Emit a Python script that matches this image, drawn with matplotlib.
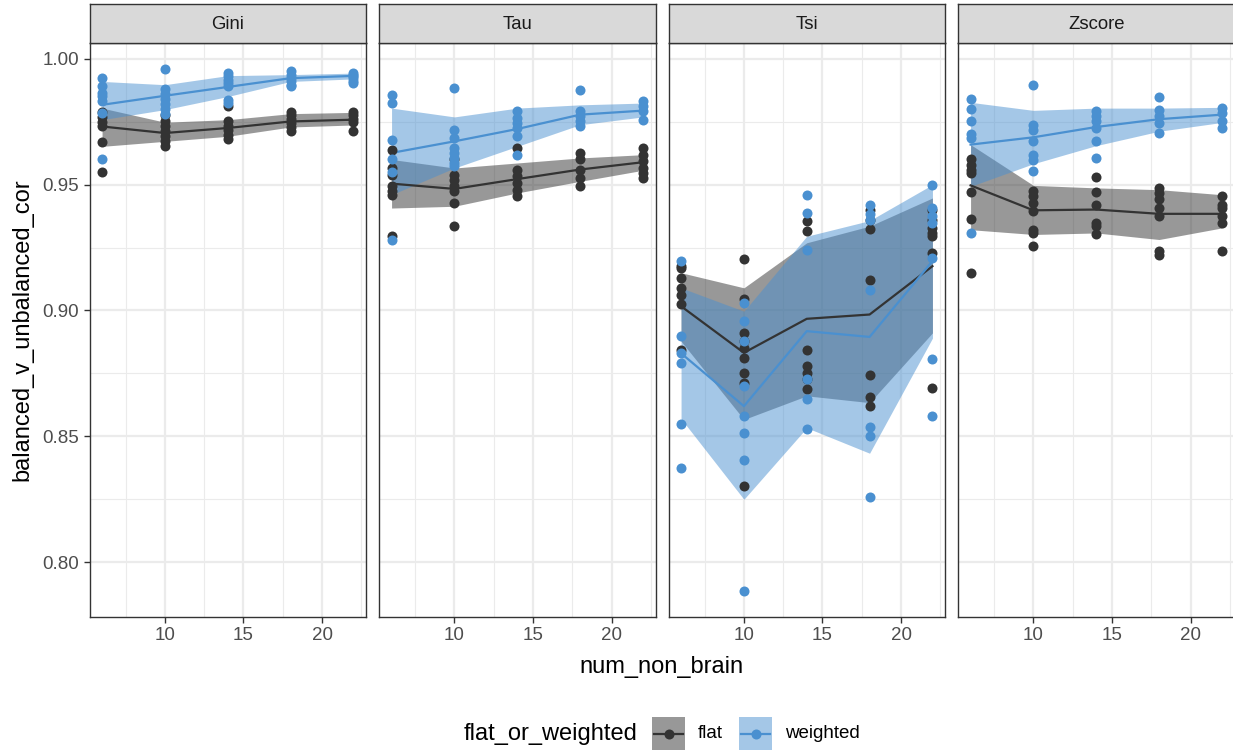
import matplotlib
matplotlib.use("Agg")
import matplotlib.pyplot as plt
from matplotlib.patches import Rectangle
from matplotlib.lines import Line2D
import numpy as np

plt.rcParams['font.family'] = ['Liberation Sans', 'DejaVu Sans']

# ---------------------------------------------------------------- data
num_non_brain = [6, 10, 14, 18, 22]
facets = ["Gini", "Tau", "Tsi", "Zscore"]

# Gini
gini_flat_pts = [[0.979, 0.977, 0.975, 0.9734, 0.9668, 0.9549],
                 [0.9778, 0.9751, 0.9731, 0.9712, 0.9692, 0.9672, 0.9655],
                 [0.9811, 0.9751, 0.9734, 0.9716, 0.9698, 0.9681],
                 [0.979, 0.9776, 0.976, 0.9743, 0.9728, 0.9714],
                 [0.979, 0.9776, 0.976, 0.9747, 0.9714]]
gini_flat_mean = [0.9731, 0.9705, 0.9725, 0.9751, 0.9758]
gini_flat_lo = [0.9652, 0.9672, 0.9692, 0.9729, 0.9737]
gini_flat_hi = [0.9804, 0.9748, 0.9758, 0.9782, 0.9787]
gini_wt_pts = [[0.9923, 0.9893, 0.9866, 0.9851, 0.9831, 0.9784, 0.9602],
               [0.9959, 0.988, 0.986, 0.984, 0.982, 0.980, 0.978],
               [0.9943, 0.993, 0.9917, 0.9903, 0.989, 0.9837, 0.9823],
               [0.995, 0.9937, 0.9923, 0.991, 0.9897, 0.989],
               [0.9943, 0.9935, 0.993, 0.9923, 0.991, 0.9905]]
gini_wt_mean = [0.9817, 0.9853, 0.9888, 0.9923, 0.9932]
gini_wt_lo = [0.9758, 0.9798, 0.985, 0.991, 0.992]
gini_wt_hi = [0.991, 0.9897, 0.9933, 0.9937, 0.9943]

# Tau
tau_flat_pts = [[0.9639, 0.9566, 0.954, 0.9493, 0.9474, 0.946, 0.9295],
                [0.96, 0.954, 0.952, 0.9493, 0.9474, 0.9427, 0.9337],
                [0.9646, 0.956, 0.9533, 0.9507, 0.948, 0.9454],
                [0.9626, 0.96, 0.956, 0.9526, 0.9493],
                [0.9646, 0.9619, 0.9593, 0.9566, 0.9546, 0.9526]]
tau_flat_mean = [0.9504, 0.9483, 0.9522, 0.956, 0.9589]
tau_flat_lo = [0.9407, 0.9414, 0.9467, 0.9513, 0.9557]
tau_flat_hi = [0.960, 0.9566, 0.9586, 0.9606, 0.9619]
tau_wt_pts = [[0.9857, 0.9824, 0.9679, 0.960, 0.9549, 0.928],
              [0.9884, 0.9718, 0.9685, 0.9645, 0.9626, 0.9606, 0.9586, 0.9573],
              [0.9791, 0.9765, 0.9745, 0.9725, 0.9692, 0.9619],
              [0.9877, 0.9791, 0.9771, 0.9751, 0.9731],
              [0.9831, 0.9811, 0.9791, 0.9758]]
tau_wt_mean = [0.9626, 0.9672, 0.9721, 0.9778, 0.9794]
tau_wt_lo = [0.946, 0.9566, 0.9652, 0.9738, 0.9769]
tau_wt_hi = [0.9804, 0.9769, 0.9804, 0.9817, 0.9824]

# Tsi
tsi_flat_pts = [[0.9176, 0.9169, 0.913, 0.909, 0.9063, 0.9024, 0.8845],
                [0.9206, 0.9044, 0.8911, 0.8878, 0.8852, 0.8812, 0.8753, 0.8713, 0.8304],
                [0.9357, 0.9315, 0.8845, 0.8779, 0.8753, 0.8726, 0.8687],
                [0.9401, 0.9361, 0.9322, 0.9123, 0.8743, 0.8655, 0.8622],
                [0.9401, 0.9361, 0.9328, 0.9308, 0.9295, 0.9229, 0.8694]]
tsi_flat_mean = [0.9017, 0.8832, 0.8967, 0.8984, 0.9176]
tsi_flat_lo = [0.8878, 0.8567, 0.8661, 0.8634, 0.8911]
tsi_flat_hi = [0.915, 0.909, 0.9269, 0.9335, 0.9447]
tsi_wt_pts = [[0.9196, 0.8897, 0.883, 0.8791, 0.8548, 0.8373],
              [0.903, 0.896, 0.8878, 0.870, 0.8581, 0.8512, 0.8405, 0.7886],
              [0.946, 0.9388, 0.924, 0.8726, 0.8647, 0.8528],
              [0.9421, 0.9382, 0.9361, 0.9083, 0.8536, 0.8503, 0.8261],
              [0.950, 0.9407, 0.9374, 0.9348, 0.9209, 0.8808, 0.8581]]
tsi_wt_mean = [0.883, 0.862, 0.8918, 0.8895, 0.9196]
tsi_wt_lo = [0.857, 0.825, 0.8534, 0.8433, 0.889]
tsi_wt_hi = [0.909, 0.8997, 0.9295, 0.9357, 0.950]

# Zscore
zscore_flat_pts = [[0.9602, 0.9579, 0.956, 0.9546, 0.947, 0.9365, 0.9149],
                   [0.9474, 0.9456, 0.9427, 0.9394, 0.9321, 0.9308, 0.9258],
                   [0.9529, 0.947, 0.9421, 0.9348, 0.9335, 0.9302],
                   [0.9487, 0.9467, 0.9443, 0.9407, 0.9374, 0.9235, 0.9222],
                   [0.9454, 0.9421, 0.9407, 0.9374, 0.9348, 0.9235]]
zscore_flat_mean = [0.9497, 0.9398, 0.9401, 0.9384, 0.9384]
zscore_flat_lo = [0.9321, 0.9302, 0.9308, 0.9282, 0.9328]
zscore_flat_hi = [0.9659, 0.9497, 0.9487, 0.948, 0.946]
zscore_wt_pts = [[0.984, 0.9802, 0.9754, 0.9701, 0.9685, 0.9306],
                 [0.9897, 0.9738, 0.9718, 0.9672, 0.9619, 0.9599, 0.9553],
                 [0.9791, 0.9771, 0.9751, 0.9725, 0.9672, 0.9606],
                 [0.9847, 0.9795, 0.9771, 0.9745, 0.9705],
                 [0.9804, 0.9784, 0.9751, 0.9725]]
zscore_wt_mean = [0.9659, 0.9688, 0.9729, 0.976, 0.9778]
zscore_wt_lo = [0.9493, 0.9583, 0.9655, 0.9712, 0.9747]
zscore_wt_hi = [0.9827, 0.9795, 0.9804, 0.9804, 0.9807]

x_ticks = [10, 15, 20]
y_ticks = [0.80, 0.85, 0.90, 0.95, 1.00]
y_tick_labels = ["0.80", "0.85", "0.90", "0.95", "1.00"]
group_labels = ["flat", "weighted"]

# ---------------------------------------------------------------- style
W, H = 1233, 752
FLAT = "#333333"
WEIGHTED = "#4A90D0"
GRID = "#EBEBEB"
BORDER = "#333333"
STRIP = "#D9D9D9"
PT_SIZE = 52

panels = [
    (gini_flat_pts, gini_flat_mean, gini_flat_lo, gini_flat_hi,
     gini_wt_pts, gini_wt_mean, gini_wt_lo, gini_wt_hi),
    (tau_flat_pts, tau_flat_mean, tau_flat_lo, tau_flat_hi,
     tau_wt_pts, tau_wt_mean, tau_wt_lo, tau_wt_hi),
    (tsi_flat_pts, tsi_flat_mean, tsi_flat_lo, tsi_flat_hi,
     tsi_wt_pts, tsi_wt_mean, tsi_wt_lo, tsi_wt_hi),
    (zscore_flat_pts, zscore_flat_mean, zscore_flat_lo, zscore_flat_hi,
     zscore_wt_pts, zscore_wt_mean, zscore_wt_lo, zscore_wt_hi),
]

fig = plt.figure(figsize=(W / 100, H / 100), dpi=100)

panel_top, panel_bottom = 43, 617
strip_top = 4.5
panel_w = 276.5
panel_lefts = [89.5, 379.0, 668.5, 958.0]

all_vals = [v for p in panels for grp in (p[0], p[4]) for col in grp for v in col]
ymin, ymax = min(all_vals), max(all_vals)
yr = ymax - ymin
ylim = (ymin - 0.05 * yr, ymax + 0.05 * yr)
xr = max(num_non_brain) - min(num_non_brain)
xlim = (min(num_non_brain) - 0.05 * xr, max(num_non_brain) + 0.05 * xr)


def fig_rect(left, top, width, height):
    return [left / W, 1 - (top + height) / H, width / W, height / H]


for i, (name, p) in enumerate(zip(facets, panels)):
    fpts, fmean, flo, fhi, wpts, wmean, wlo, whi = p
    ax = fig.add_axes(fig_rect(panel_lefts[i], panel_top, panel_w,
                               panel_bottom - panel_top))
    ax.set_xlim(*xlim)
    ax.set_ylim(*ylim)
    ax.set_facecolor("white")

    # grid: minor between majors, then majors
    for xm in [7.5, 12.5, 17.5, 22.5]:
        ax.axvline(xm, color=GRID, lw=0.8, zorder=0)
    for ym in [0.775, 0.825, 0.875, 0.925, 0.975]:
        ax.axhline(ym, color=GRID, lw=0.8, zorder=0)
    for xm in x_ticks:
        ax.axvline(xm, color=GRID, lw=1.6, zorder=0)
    for ym in y_ticks:
        ax.axhline(ym, color=GRID, lw=1.6, zorder=0)

    # ribbons
    ax.fill_between(num_non_brain, flo, fhi, color=FLAT, alpha=0.5,
                    lw=0, zorder=1)
    ax.fill_between(num_non_brain, wlo, whi, color=WEIGHTED, alpha=0.5,
                    lw=0, zorder=1)
    # summary lines
    ax.plot(num_non_brain, fmean, color=FLAT, lw=1.6, zorder=2)
    ax.plot(num_non_brain, wmean, color=WEIGHTED, lw=1.6, zorder=2)
    # raw points
    for x, col in zip(num_non_brain, fpts):
        ax.scatter([x] * len(col), col, s=PT_SIZE, color=FLAT, lw=0, zorder=3)
    for x, col in zip(num_non_brain, wpts):
        ax.scatter([x] * len(col), col, s=PT_SIZE, color=WEIGHTED, lw=0,
                   zorder=4)

    for sp in ax.spines.values():
        sp.set_color(BORDER)
        sp.set_linewidth(1.0)
    ax.set_xticks(x_ticks)
    ax.set_xticklabels([str(t) for t in x_ticks])
    ax.set_yticks(y_ticks)
    if i == 0:
        ax.set_yticklabels(y_tick_labels)
    else:
        ax.tick_params(axis="y", length=0, labelleft=False)
    ax.tick_params(axis="both", colors=BORDER, width=1.0, length=4.5,
                   labelsize=13.5, labelcolor="#4D4D4D", pad=3)
    if i != 0:
        ax.tick_params(axis="y", length=0)

    # facet strip
    sax = fig.add_axes(fig_rect(panel_lefts[i], strip_top, panel_w,
                                panel_top - strip_top))
    sax.set_facecolor(STRIP)
    sax.set_xticks([])
    sax.set_yticks([])
    for sp in sax.spines.values():
        sp.set_color(BORDER)
        sp.set_linewidth(1.0)
    sax.text(0.5, 0.48, name, ha="center", va="center", fontsize=13.3,
             color="#1A1A1A", transform=sax.transAxes)

# axis titles
fig.text(661 / W, 1 - 667 / H, "num_non_brain", ha="center", va="center",
         fontsize=17, color="black")
fig.text(22 / W, 1 - 330 / H, "balanced_v_unbalanced_cor", ha="center",
         va="center", rotation=90, fontsize=17, color="black")

# legend drawn in pixel space
lax = fig.add_axes([0, 0, 1, 1], facecolor="none")
lax.set_xlim(0, W)
lax.set_ylim(H, 0)
lax.axis("off")
lax.text(637, 734, "flat_or_weighted", ha="right", va="center",
         fontsize=17, color="black")
key_specs = [(652, FLAT, group_labels[0]), (739, WEIGHTED, group_labels[1])]
for kx, col, lab in key_specs:
    lax.add_patch(Rectangle((kx, 717), 33, 33, facecolor=col, alpha=0.5,
                            lw=0))
    lax.add_line(Line2D([kx + 2, kx + 31], [733.5, 733.5], color=col,
                        lw=1.6))
    lax.scatter([kx + 16.5], [733.5], s=PT_SIZE, color=col, lw=0)
    lax.text(kx + 46, 734, lab, ha="left", va="center", fontsize=13.5,
             color="black")

fig.savefig("out.png", dpi=100)
